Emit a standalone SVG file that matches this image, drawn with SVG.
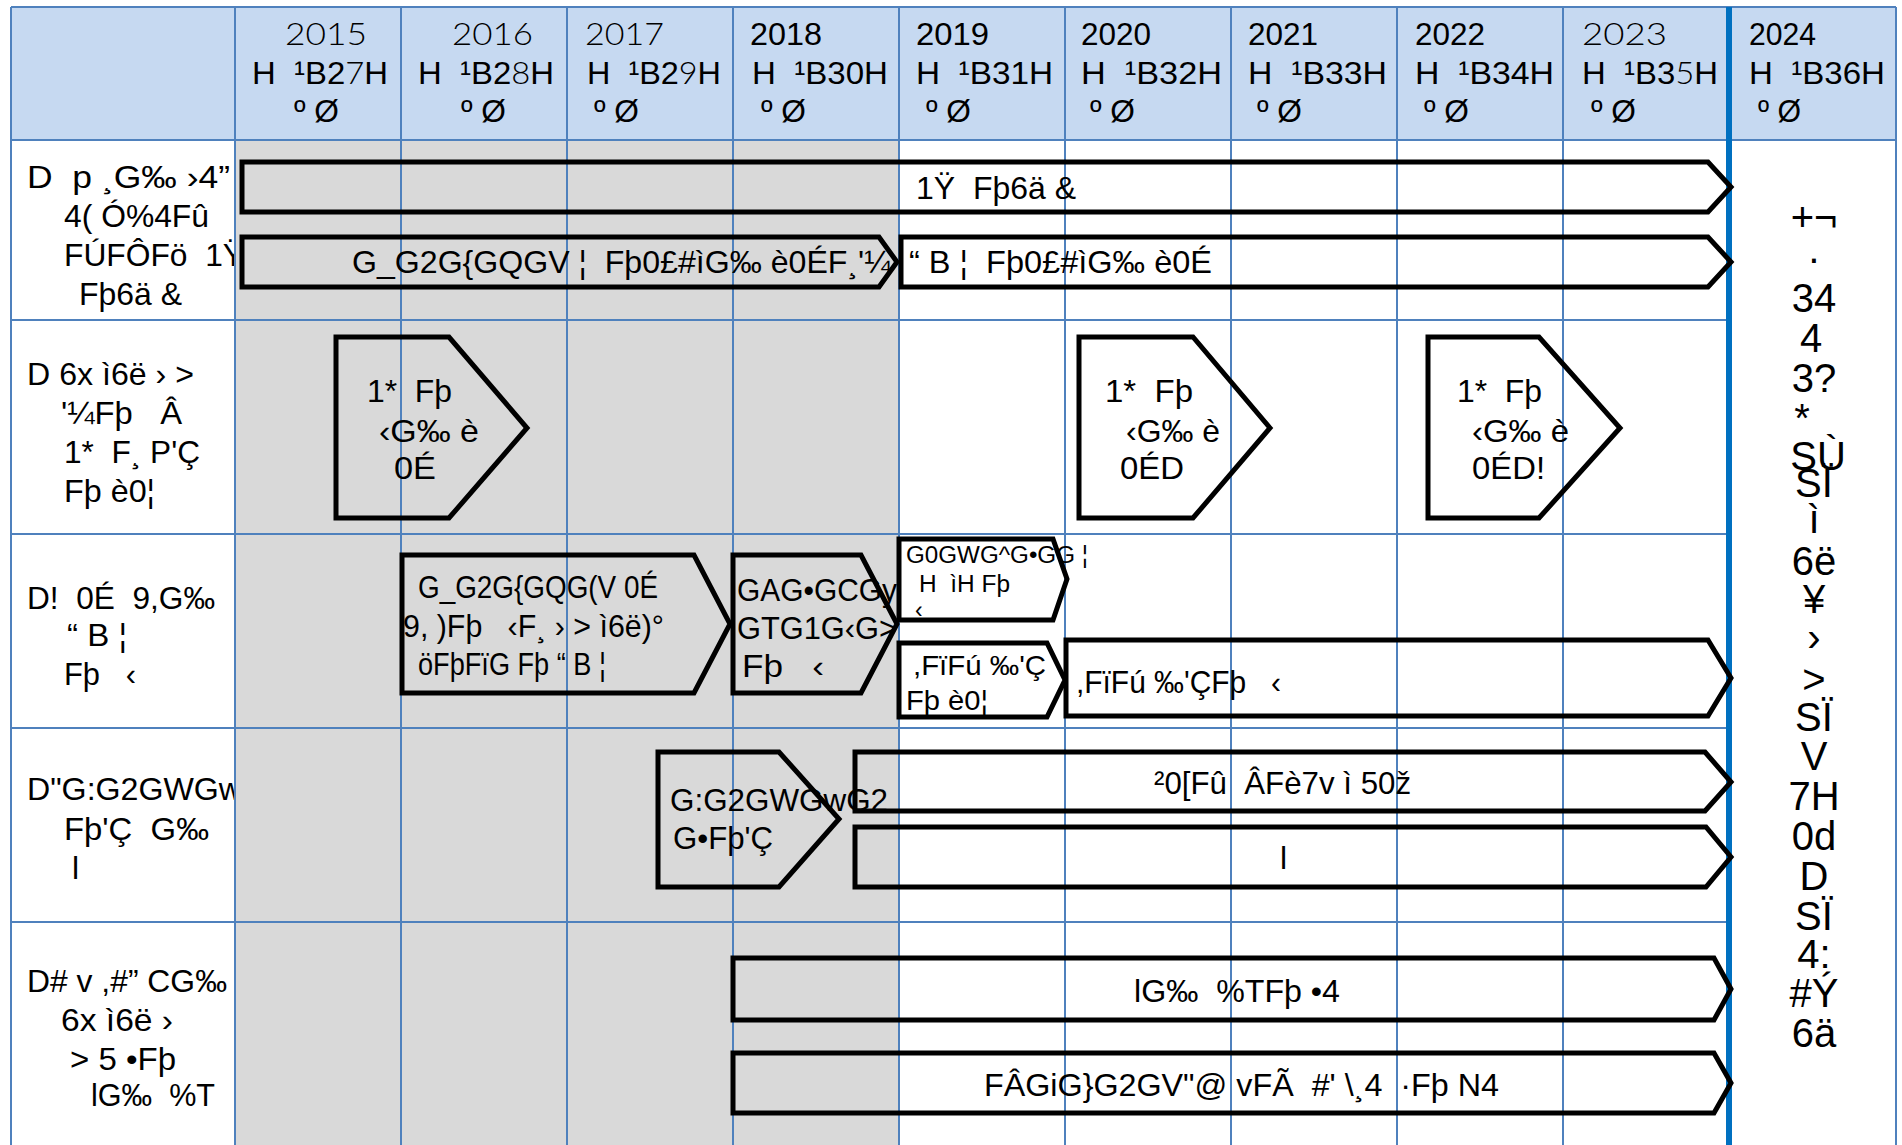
<svg xmlns="http://www.w3.org/2000/svg" width="1902" height="1145" viewBox="0 0 1902 1145">
<style>
.t{font-family:"Liberation Sans",Arial,sans-serif;font-size:32px;fill:#000;white-space:pre}
.th{font-family:Lato,"DejaVu Sans","Liberation Sans",sans-serif;font-weight:300}
.sm{font-size:23px}
.md{font-size:28px}
.rc{font-size:40px;text-anchor:middle}
.a{fill:none;stroke:#000;stroke-width:5;stroke-linejoin:miter}
.g{stroke:#4f81bd;stroke-width:2;fill:none}
</style>
<rect x="0" y="0" width="1902" height="1145" fill="#fff"/>
<g id="row-labels">
<text class="t" x="27" y="188" textLength="203" lengthAdjust="spacingAndGlyphs">D  p ¸G‰ ›4”</text>
<text class="t" x="64" y="227" textLength="145" lengthAdjust="spacingAndGlyphs">4( Ó%4Fû</text>
<text class="t" x="64" y="266" textLength="180" lengthAdjust="spacingAndGlyphs">FÚFÔFö  1Ÿ</text>
<text class="t" x="79" y="305" textLength="103" lengthAdjust="spacingAndGlyphs">Fþ6ä &amp;</text>
<text class="t" x="27" y="385" textLength="167" lengthAdjust="spacingAndGlyphs">D 6x ì6ë › &gt;</text>
<text class="t" x="61" y="424" textLength="121" lengthAdjust="spacingAndGlyphs">'¼Fþ   Â</text>
<text class="t" x="64" y="463" textLength="136" lengthAdjust="spacingAndGlyphs">1*  F¸ P'Ç</text>
<text class="t" x="64" y="502" textLength="91" lengthAdjust="spacingAndGlyphs">Fþ è0¦</text>
<text class="t" x="27" y="609" textLength="188" lengthAdjust="spacingAndGlyphs">D!  0É  9,G‰</text>
<text class="t" x="67" y="646" textLength="60" lengthAdjust="spacingAndGlyphs">“ B ¦</text>
<text class="t" x="64" y="685" textLength="72" lengthAdjust="spacingAndGlyphs">Fþ   ‹</text>
<text class="t" x="27" y="800" textLength="215" lengthAdjust="spacingAndGlyphs">D"G:G2GWGw</text>
<text class="t" x="64" y="840" textLength="145" lengthAdjust="spacingAndGlyphs">Fþ'Ç  G‰</text>
<text class="t" x="72" y="879">l</text>
<text class="t" x="27" y="992" textLength="200" lengthAdjust="spacingAndGlyphs">D# v ,#” CG‰</text>
<text class="t" x="61" y="1031" textLength="112" lengthAdjust="spacingAndGlyphs">6x ì6ë ›</text>
<text class="t" x="70" y="1070" textLength="106" lengthAdjust="spacingAndGlyphs">&gt; 5 •Fþ</text>
<text class="t" x="91" y="1106" textLength="124" lengthAdjust="spacingAndGlyphs">lG‰  %T</text>
</g>
<g id="background">
<rect x="11" y="7" width="1885" height="133" fill="#c6d9f1"/>
<rect x="235" y="140" width="664" height="1005" fill="#d9d9d9"/>
</g>
<g id="grid">
<path class="g" d="M11,7H1896M11,140H1896M11,320H1729M11,534H1729M11,728H1729M11,922H1729"/>
<path class="g" d="M11,7V1145M235,7V1145M401,7V1145M567,7V1145M733,7V1145M899,7V1145M1065,7V1145M1231,7V1145M1397,7V1145M1563,7V1145M1896,7V1145"/>
<path d="M1729,7V1145" stroke="#0070c0" stroke-width="6"/>
</g>
<g id="header">
<text class="t th" x="285" y="45" textLength="82" lengthAdjust="spacingAndGlyphs">2015</text>
<text class="t th" x="452" y="45" textLength="81" lengthAdjust="spacingAndGlyphs">2016</text>
<text class="t th" x="585" y="45" textLength="79" lengthAdjust="spacingAndGlyphs">2017</text>
<text class="t" x="750" y="45" textLength="72" lengthAdjust="spacingAndGlyphs">2018</text>
<text class="t" x="916" y="45" textLength="73" lengthAdjust="spacingAndGlyphs">2019</text>
<text class="t" x="1081" y="45" textLength="70" lengthAdjust="spacingAndGlyphs">2020</text>
<text class="t" x="1248" y="45" textLength="70" lengthAdjust="spacingAndGlyphs">2021</text>
<text class="t" x="1415" y="45" textLength="70" lengthAdjust="spacingAndGlyphs">2022</text>
<text class="t th" x="1582" y="45" textLength="85" lengthAdjust="spacingAndGlyphs">2023</text>
<text class="t" x="1749" y="45" textLength="67" lengthAdjust="spacingAndGlyphs">2024</text>
<text class="t" x="252" y="84" textLength="136" lengthAdjust="spacingAndGlyphs">H  ¹B2<tspan class="th">7</tspan>H</text>
<text class="t" x="418" y="84" textLength="136" lengthAdjust="spacingAndGlyphs">H  ¹B2<tspan class="th">8</tspan>H</text>
<text class="t" x="587" y="84" textLength="134" lengthAdjust="spacingAndGlyphs">H  ¹B2<tspan class="th">9</tspan>H</text>
<text class="t" x="752" y="84" textLength="136" lengthAdjust="spacingAndGlyphs">H  ¹B30H</text>
<text class="t" x="916" y="84" textLength="137" lengthAdjust="spacingAndGlyphs">H  ¹B31H</text>
<text class="t" x="1081" y="84" textLength="141" lengthAdjust="spacingAndGlyphs">H  ¹B32H</text>
<text class="t" x="1248" y="84" textLength="139" lengthAdjust="spacingAndGlyphs">H  ¹B33H</text>
<text class="t" x="1415" y="84" textLength="139" lengthAdjust="spacingAndGlyphs">H  ¹B34H</text>
<text class="t" x="1582" y="84" textLength="136" lengthAdjust="spacingAndGlyphs">H  ¹B3<tspan class="th">5</tspan>H</text>
<text class="t" x="1749" y="84" textLength="136" lengthAdjust="spacingAndGlyphs">H  ¹B36H</text>
<text class="t" x="294" y="122" textLength="45" lengthAdjust="spacingAndGlyphs">º Ø</text>
<text class="t" x="461" y="122" textLength="45" lengthAdjust="spacingAndGlyphs">º Ø</text>
<text class="t" x="594" y="122" textLength="45" lengthAdjust="spacingAndGlyphs">º Ø</text>
<text class="t" x="761" y="122" textLength="45" lengthAdjust="spacingAndGlyphs">º Ø</text>
<text class="t" x="926" y="122" textLength="45" lengthAdjust="spacingAndGlyphs">º Ø</text>
<text class="t" x="1090" y="122" textLength="45" lengthAdjust="spacingAndGlyphs">º Ø</text>
<text class="t" x="1257" y="122" textLength="45" lengthAdjust="spacingAndGlyphs">º Ø</text>
<text class="t" x="1424" y="122" textLength="45" lengthAdjust="spacingAndGlyphs">º Ø</text>
<text class="t" x="1591" y="122" textLength="45" lengthAdjust="spacingAndGlyphs">º Ø</text>
<text class="t" x="1758" y="122" textLength="43" lengthAdjust="spacingAndGlyphs">º Ø</text>
</g>
<g id="arrow-a">
<polygon class="a" points="242,162 1708,162 1731,187 1708,212 242,212"/>
<text class="t" x="916" y="199" textLength="160" lengthAdjust="spacingAndGlyphs">1Ÿ  Fþ6ä &amp;</text>
</g>
<g id="arrow-b1">
<polygon class="a" points="242,237 879,237 897,262 879,287 242,287"/>
<text class="t" x="352" y="273" textLength="539" lengthAdjust="spacingAndGlyphs">G_G2G{GQGV ¦  Fþ0£#ìG‰ è0ÉF¸'¼</text>
</g>
<g id="arrow-b2">
<polygon class="a" points="901,237 1708,237 1731,262 1708,287 901,287"/>
<text class="t" x="909" y="273" textLength="303" lengthAdjust="spacingAndGlyphs">“ B ¦  Fþ0£#ìG‰ è0É</text>
</g>
<g id="pent-1">
<polygon class="a" points="336,337 449,337 527,428 449,518 336,518"/>
<text class="t" x="367" y="402" textLength="85" lengthAdjust="spacingAndGlyphs">1*  Fþ</text>
<text class="t" x="379" y="442" textLength="100" lengthAdjust="spacingAndGlyphs">‹G‰ è</text>
<text class="t" x="394" y="479" textLength="42" lengthAdjust="spacingAndGlyphs">0É</text>
</g>
<g id="pent-2">
<polygon class="a" points="1079,337 1193,337 1270,428 1193,518 1079,518"/>
<text class="t" x="1105" y="402" textLength="88" lengthAdjust="spacingAndGlyphs">1*  Fþ</text>
<text class="t" x="1126" y="442" textLength="94" lengthAdjust="spacingAndGlyphs">‹G‰ è</text>
<text class="t" x="1120" y="479" textLength="64" lengthAdjust="spacingAndGlyphs">0ÉD</text>
</g>
<g id="pent-3">
<polygon class="a" points="1428,337 1539,337 1620,428 1539,518 1428,518"/>
<text class="t" x="1457" y="402" textLength="85" lengthAdjust="spacingAndGlyphs">1*  Fþ</text>
<text class="t" x="1472" y="442" textLength="97" lengthAdjust="spacingAndGlyphs">‹G‰ è</text>
<text class="t" x="1472" y="479" textLength="73" lengthAdjust="spacingAndGlyphs">0ÉD!</text>
</g>
<g id="shape-s1">
<polygon class="a" points="402,555 694,555 730,624 694,693 402,693"/>
<text class="t" x="418" y="598" textLength="240" lengthAdjust="spacingAndGlyphs">G_G2G{GQG(V 0É</text>
<text class="t" x="403" y="637" textLength="261" lengthAdjust="spacingAndGlyphs">9, )Fþ   ‹F¸ › &gt; ì6ë)°</text>
<text class="t" x="418" y="675" textLength="188" lengthAdjust="spacingAndGlyphs">öFþFïG Fþ “ B ¦</text>
</g>
<g id="shape-s2">
<polygon class="a" points="733,555 861,555 897,624 861,693 733,693"/>
<text class="t" x="737" y="601" textLength="160" lengthAdjust="spacingAndGlyphs">GAG•GCGy</text>
<text class="t" x="737" y="639" textLength="160" lengthAdjust="spacingAndGlyphs">GTG1G‹G&gt;</text>
<text class="t" x="742" y="677" textLength="82" lengthAdjust="spacingAndGlyphs">Fþ   ‹</text>
</g>
<g id="shape-s3">
<polygon class="a" points="899,539 1053,539 1067,579 1053,620 899,620"/>
<text class="t sm" x="906" y="563" textLength="182" lengthAdjust="spacingAndGlyphs">G0GWG^G•GG ¦</text>
<text class="t sm" x="919" y="592" textLength="91" lengthAdjust="spacingAndGlyphs">H  ìH Fþ</text>
<text class="t sm" x="915" y="618">‹</text>
</g>
<g id="shape-s4">
<polygon class="a" points="899,643 1047,643 1065,680 1047,717 899,717"/>
<text class="t md" x="913" y="675" textLength="133" lengthAdjust="spacingAndGlyphs">,FïFú ‰'Ç</text>
<text class="t md" x="906" y="710" textLength="82" lengthAdjust="spacingAndGlyphs">Fþ è0¦</text>
</g>
<g id="shape-s5">
<polygon class="a" points="1066,640 1708,640 1731,678 1708,716 1066,716"/>
<text class="t" x="1076" y="693" textLength="205" lengthAdjust="spacingAndGlyphs">,FïFú ‰'ÇFþ   ‹</text>
</g>
<g id="pent-t1">
<polygon class="a" points="658,752 779,752 839,819 779,887 658,887"/>
<text class="t" x="670" y="811" textLength="218" lengthAdjust="spacingAndGlyphs">G:G2GWGwG2</text>
<text class="t" x="673" y="849" textLength="100" lengthAdjust="spacingAndGlyphs">G•Fþ'Ç</text>
</g>
<g id="arrow-t2">
<polygon class="a" points="855,752 1705,752 1731,782 1705,811 855,811"/>
<text class="t" x="1154" y="794" textLength="257" lengthAdjust="spacingAndGlyphs">²0[Fû  ÂFè7v ì 50ž</text>
</g>
<g id="arrow-t3">
<polygon class="a" points="855,827 1706,827 1731,857 1706,887 855,887"/>
<text class="t" x="1280" y="869">l</text>
</g>
<g id="arrow-u1">
<polygon class="a" points="733,958 1714,958 1731,989 1714,1020 733,1020"/>
<text class="t" x="1134" y="1002" textLength="206" lengthAdjust="spacingAndGlyphs">lG‰  %TFþ •4</text>
</g>
<g id="arrow-u2">
<polygon class="a" points="733,1053 1714,1053 1731,1083 1714,1113 733,1113"/>
<text class="t" x="984" y="1096" textLength="515" lengthAdjust="spacingAndGlyphs">FÂGiG}G2GV"@ vFÃ  #' \¸4  ·Fþ N4</text>
</g>
<g id="note-2024">
<text class="t rc" x="1814" y="231">+¬</text>
<text class="t rc" x="1814" y="272">·</text>
<text class="t rc" x="1814" y="312">34</text>
<text class="t rc" x="1811" y="352">4</text>
<text class="t rc" x="1814" y="392">3?</text>
<text class="t rc" x="1802" y="432">*</text>
<text class="t rc" x="1818" y="470">SÙ</text>
<text class="t rc" x="1814" y="497">SÏ</text>
<text class="t rc" x="1814" y="533">ì</text>
<text class="t rc" x="1814" y="575">6ë</text>
<text class="t rc" x="1814" y="613">¥</text>
<text class="t rc" x="1814" y="651">›</text>
<text class="t rc" x="1814" y="693">&gt;</text>
<text class="t rc" x="1814" y="731">SÏ</text>
<text class="t rc" x="1814" y="770">V</text>
<text class="t rc" x="1814" y="810">7H</text>
<text class="t rc" x="1814" y="850">0d</text>
<text class="t rc" x="1814" y="890">D</text>
<text class="t rc" x="1814" y="930">SÏ</text>
<text class="t rc" x="1814" y="968">4:</text>
<text class="t rc" x="1814" y="1007">#Ý</text>
<text class="t rc" x="1814" y="1047">6ä</text>
</g>
</svg>
